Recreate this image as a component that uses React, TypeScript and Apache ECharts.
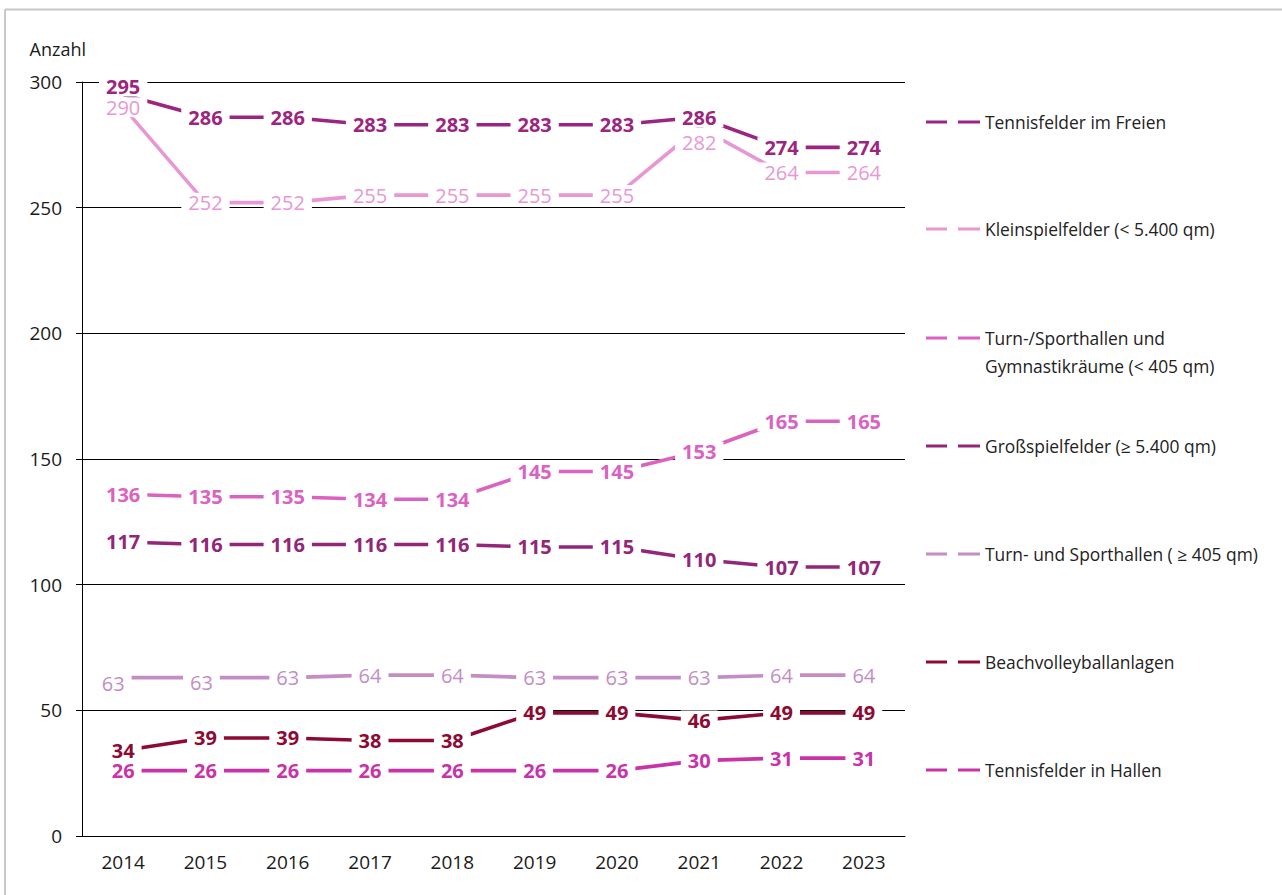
import { useEffect, useRef } from "react";
import * as echarts from "echarts";

const years = ["2014", "2015", "2016", "2017", "2018", "2019", "2020", "2021", "2022", "2023"];
const yTicks = { min: 0, max: 300, step: 50 };

const tennisFreien = [295, 286, 286, 283, 283, 283, 283, 286, 274, 274];
const kleinspielfelder = [290, 252, 252, 255, 255, 255, 255, 282, 264, 264];
const turnKlein = [136, 135, 135, 134, 134, 145, 145, 153, 165, 165];
const grossspielfelder = [117, 116, 116, 116, 116, 115, 115, 110, 107, 107];
const turnGross = [63, 63, 63, 64, 64, 63, 63, 63, 64, 64];
const beach = [34, 39, 39, 38, 38, 49, 49, 46, 49, 49];
const tennisHallen = [26, 26, 26, 26, 26, 26, 26, 30, 31, 31];

const names = [
  "Tennisfelder im Freien",
  "Kleinspielfelder (< 5.400 qm)",
  "Turn-/Sporthallen und\nGymnastikräume (< 405 qm)",
  "Großspielfelder (≥ 5.400 qm)",
  "Turn- und Sporthallen ( ≥ 405 qm)",
  "Beachvolleyballanlagen",
  "Tennisfelder in Hallen",
];
const values = [tennisFreien, kleinspielfelder, turnKlein, grossspielfelder, turnGross, beach, tennisHallen];
const colors = ["#9B2580", "#E897D5", "#DA62C1", "#922678", "#C28EC4", "#8C0A33", "#C933A9"];
const bold = [true, false, true, true, false, true, true];

// label nudges [seriesIndex, pointIndex, dx, dy, extraTopPadding]
const nudges: [number, number, number, number, number][] = [
  [0, 0, 0, -8, 0],
  [1, 7, 0, 15, 9],
  [4, 0, -10, 6, 0],
  [4, 1, -4, 5, 0],
];

const legendCenters = [122, 229, 338, 446, 554, 662, 770];
const FONT = "'Open Sans', 'Noto Sans', sans-serif";

export default function App() {
  const ref = useRef<HTMLDivElement>(null);
  useEffect(() => {
    const chart = echarts.init(ref.current!, null, { renderer: "svg" });
    const series = names.map((name, si) => ({
      name,
      type: "line",
      symbol: "circle",
      symbolSize: 1,
      color: colors[si],
      lineStyle: { width: 3.6, color: colors[si] },
      itemStyle: { color: colors[si] },
      data: values[si].map((v, pi) => {
        const n = nudges.find((q) => q[0] === si && q[1] === pi);
        if (!n) return v;
        const label: any = { offset: [n[2], n[3]] };
        if (n[4]) label.padding = [1 + n[4], 7, 1, 7];
        return { value: v, label };
      }),
      label: {
        show: true,
        position: "inside",
        color: colors[si],
        fontFamily: FONT,
        fontSize: 20,
        fontWeight: bold[si] ? "bold" : "normal",
        backgroundColor: "#fff",
        padding: [1, 7, 1, 7],
        lineHeight: 18,
      },
      emphasis: { disabled: true },
    }));
    const legends = names.map((name, i) => {
      const twoLine = name.includes("\n");
      return {
        data: [name],
        left: 926,
        top: legendCenters[i] - 14,
        orient: "vertical",
        padding: 0,
        itemWidth: 54,
        itemHeight: twoLine ? 31 : 3,
        icon: twoLine
          ? "path://M0,0H21V3H0Z M32,0H54V3H32Z M0,31L0.01,31L0,31Z"
          : "path://M0,0H21V3H0Z M32,0H54V3H32Z",
        itemStyle: { borderWidth: 0 },
        selectedMode: false,
        textStyle: {
          fontFamily: FONT,
          fontSize: 17.4,
          color: "#222",
          lineHeight: 28,
        },
      };
    });
    chart.setOption({
      animation: false,
      backgroundColor: "#fff",
      grid: { left: 82, top: 82, right: 377, bottom: 59 },
      legend: legends,
      graphic: [
        { type: "line", shape: { x1: 5, y1: 9.5, x2: 1282, y2: 9.5 }, style: { stroke: "#c8c8c8", lineWidth: 2 } },
        { type: "line", shape: { x1: 5, y1: 9.5, x2: 5, y2: 895 }, style: { stroke: "#c8c8c8", lineWidth: 2 } },
      ],
      xAxis: {
        type: "category",
        data: years,
        boundaryGap: true,
        axisLine: { lineStyle: { color: "#000", width: 1 } },
        axisTick: { show: false },
        axisLabel: { fontFamily: FONT, fontSize: 19, color: "#1a1a1a", margin: 16 },
      },
      yAxis: {
        type: "value",
        min: yTicks.min,
        max: yTicks.max,
        interval: yTicks.step,
        name: "Anzahl",
        nameLocation: "end",
        nameGap: 24,
        nameTextStyle: { fontFamily: FONT, fontSize: 18, color: "#1a1a1a", align: "right", padding: [0, -4, 0, 0] },
        axisLine: { show: true, lineStyle: { color: "#000", width: 1 } },
        axisTick: { show: true, length: 6, lineStyle: { color: "#000" } },
        splitLine: { lineStyle: { color: "#000", width: 1 } },
        axisLabel: { fontFamily: FONT, fontSize: 19, color: "#1a1a1a", margin: 20 },
      },
      series,
    });
    return () => chart.dispose();
  }, []);
  return <div ref={ref} style={{ position: "absolute", left: 0, top: 0, width: 1282, height: 895 }} />;
}
